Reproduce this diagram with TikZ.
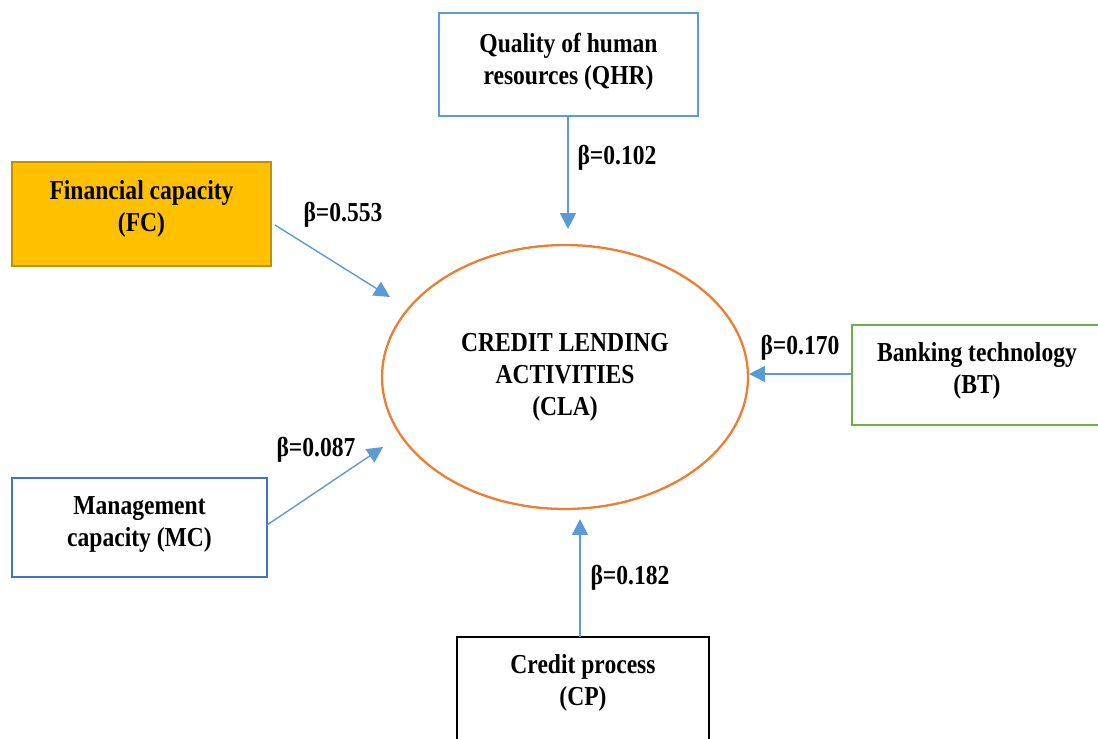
\documentclass[tikz,border=0pt]{standalone}
\usepackage{fontspec}
\setmainfont[FakeStretch=0.86]{Liberation Serif}
\usetikzlibrary{arrows.meta,shapes.geometric}
\definecolor{arrowblue}{HTML}{5B9BD5}
\definecolor{fcfill}{HTML}{FFC000}
\definecolor{fcdraw}{HTML}{BF9000}
\definecolor{btgreen}{HTML}{70AD47}
\definecolor{mcblue}{HTML}{4472C4}
\definecolor{claorange}{HTML}{ED7D31}
\begin{document}
\begin{tikzpicture}[x=0.02cm,y=-0.02cm,
  txt/.style={font=\fontsize{15.6}{18.2}\selectfont\bfseries, align=center},
  box/.style={draw, line width=1.3pt},
  link/.style={draw=arrowblue, line width=0.8pt, -{Triangle[length=9pt,width=9pt]}},
  beta/.style={txt, inner sep=0pt}]
\useasboundingbox (0,0) rectangle (1098,738);
% boxes
\draw[box, draw=arrowblue] (439,13) rectangle (698,116);
\node[txt] (qhr) at (568.5,62) {Quality of human\\resources (QHR)};
\coordinate (qhrB) at (568,116);
\draw[box, draw=fcdraw, fill=fcfill] (12,162) rectangle (271,266);
\node[txt] (fc) at (141.5,209) {Financial capacity\\(FC)};
\coordinate (fcR) at (275,225);
\draw[box, draw=btgreen] (852,325) rectangle (1100,425);
\node[txt] (bt) at (977,371) {Banking technology\\(BT)};
\coordinate (btL) at (852,374);
\draw[box, draw=mcblue] (12,478) rectangle (267,577);
\node[txt] (mc) at (139.5,524) {Management\\capacity (MC)};
\coordinate (mcR) at (267,525);
\draw[box, draw=black] (457,637) rectangle (709,745);
\node[txt] (cp) at (583,683) {Credit process\\(CP)};
\coordinate (cpT) at (580,637);
% ellipse
\node[ellipse, draw=claorange, line width=1.3pt, minimum width=7.32cm, minimum height=5.28cm, txt] (cla) at (565,377) {CREDIT LENDING\\ACTIVITIES\\(CLA)};
% targets
\coordinate (t1) at (568,229);
\coordinate (t2) at (390,297);
\coordinate (t3) at (749,374);
\coordinate (t4) at (383,447);
\coordinate (t5) at (580,519);
\draw[link] (qhrB) -- (t1);
\draw[link] (fcR) -- (t2);
\draw[link] (btL) -- (t3);
\draw[link] (mcR) -- (t4);
\draw[link] (cpT) -- (t5);
% labels
\node[beta] (b1) at (617,158) {β=0.102};
\node[beta] (b2) at (343,215) {β=0.553};
\node[beta] (b3) at (800,348) {β=0.170};
\node[beta] (b4) at (316,450) {β=0.087};
\node[beta] (b5) at (630,578) {β=0.182};
\end{tikzpicture}
\end{document}
